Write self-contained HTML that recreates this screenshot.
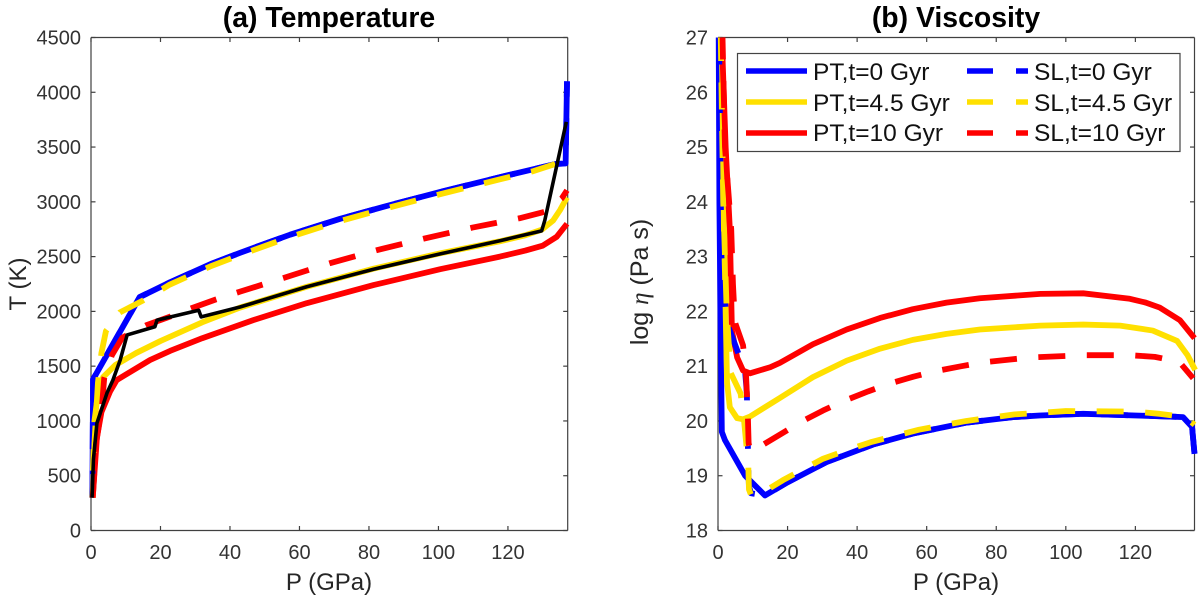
<!DOCTYPE html>
<html>
<head>
<meta charset="utf-8">
<title>Temperature and viscosity profiles</title>
<style>
html,body{margin:0;padding:0;background:#fff;}
svg{display:block;font-family:"Liberation Sans",Arial,sans-serif;}
</style>
</head>
<body>
<svg id="fig" width="1200" height="601" viewBox="0 0 1200 601" xmlns="http://www.w3.org/2000/svg">
  <g id="panelA">
    <text x="329" y="27" font-size="28.4" font-weight="bold" text-anchor="middle" fill="#000">(a) Temperature</text>
    <text x="329" y="590" font-size="24" text-anchor="middle" fill="#262626">P (GPa)</text>
    <text transform="translate(26,284) rotate(-90)" font-size="24" text-anchor="middle" fill="#262626">T (K)</text>
  </g>
  <g id="panelB">
    <text x="956" y="27" font-size="28.4" font-weight="bold" text-anchor="middle" fill="#000">(b) Viscosity</text>
    <text x="956" y="590" font-size="24" text-anchor="middle" fill="#262626">P (GPa)</text>
    <text transform="translate(648,282) rotate(-90)" font-size="25" text-anchor="middle" fill="#262626">log <tspan font-family="'Liberation Serif',serif" font-style="italic">η</tspan> (Pa s)</text>
  </g>
  <g id="legend">
    <rect x="737.5" y="53.5" width="442.5" height="98" fill="#fff" stroke="#444" stroke-width="1.2"/>
    <g>
      <line x1="746" y1="71" x2="807" y2="71" stroke="#0000ff" stroke-width="5.5"/>
      <text x="813" y="80" font-size="24.5" fill="#111">PT,t=0 Gyr</text>
    </g>
    <g>
      <line x1="746" y1="102" x2="807" y2="102" stroke="#ffe000" stroke-width="5.5"/>
      <text x="813" y="111" font-size="24.5" fill="#111">PT,t=4.5 Gyr</text>
    </g>
    <g>
      <line x1="746" y1="133" x2="807" y2="133" stroke="#ff0000" stroke-width="5.5"/>
      <text x="813" y="141" font-size="24.5" fill="#111">PT,t=10 Gyr</text>
    </g>
    <g>
      <line x1="967" y1="71" x2="1028" y2="71" stroke="#0000ff" stroke-width="5.5" stroke-dasharray="26 23"/>
      <text x="1034" y="80" font-size="24.5" fill="#111">SL,t=0 Gyr</text>
    </g>
    <g>
      <line x1="967" y1="102" x2="1028" y2="102" stroke="#ffe000" stroke-width="5.5" stroke-dasharray="26 23"/>
      <text x="1034" y="111" font-size="24.5" fill="#111">SL,t=4.5 Gyr</text>
    </g>
    <g>
      <line x1="967" y1="133" x2="1028" y2="133" stroke="#ff0000" stroke-width="5.5" stroke-dasharray="26 23"/>
      <text x="1034" y="141" font-size="24.5" fill="#111">SL,t=10 Gyr</text>
    </g>
  </g>
</svg>
<script>
// Tick labels
const xTicks = [0, 20, 40, 60, 80, 100, 120];
const tempTicks = [0, 500, 1000, 1500, 2000, 2500, 3000, 3500, 4000, 4500];
const viscTicks = [18, 19, 20, 21, 22, 23, 24, 25, 26, 27];

// Panel (a): temperature profiles
const tempPtBlueP = [0.4, 0.6, 14, 22.7, 34.3, 42.9, 57.3, 71.7, 86, 100.5, 117.7, 133.6, 136.6, 137];
const tempPtBlueT = [300, 1380, 2130, 2265, 2430, 2535, 2700, 2845, 2970, 3090, 3225, 3345, 3350, 4100];
const tempPtYellowP = [0.3, 1, 2, 3.5, 7, 13, 20, 32, 42.9, 62.1, 81.3, 100.5, 117.7, 125, 129.7, 133, 135, 137];
const tempPtYellowT = [300, 1000, 1250, 1400, 1510, 1620, 1730, 1900, 2035, 2225, 2390, 2530, 2640, 2695, 2745, 2830, 2925, 3040];
const tempPtRedP = [0.5, 1.7, 3, 5.5, 7.4, 17, 22.8, 32, 46.7, 62.1, 81.3, 100.5, 117.7, 125, 130, 134, 137];
const tempPtRedT = [300, 850, 1080, 1270, 1373, 1556, 1640, 1755, 1920, 2075, 2240, 2385, 2500, 2555, 2600, 2680, 2800];
const tempSlBlueP = [0.4, 0.6, 14, 22.7, 34.3, 42.9, 57.3, 71.7, 86, 100.5, 117.7, 133.6, 136.6, 137];
const tempSlBlueT = [300, 1380, 2130, 2265, 2430, 2535, 2700, 2845, 2970, 3090, 3225, 3345, 3350, 4100];
const tempSlYellowP = [0.5, 1, 2, 3, 4.3, 8.3, 15, 22.7, 34.3, 42.9, 57.3, 71.7, 86, 100.5, 117.7, 127.3, 133.6];
const tempSlYellowT = [300, 800, 1350, 1620, 1820, 1990, 2100, 2245, 2410, 2515, 2680, 2825, 2950, 3070, 3205, 3280, 3345];
const tempSlRedP = [0.5, 1.5, 3.2, 3.8, 6, 9, 16, 23, 29, 36, 42.9, 55.4, 68.8, 82.4, 95.9, 109.8, 123.3, 130.7, 135.5, 137];
const tempSlRedT = [300, 800, 1150, 1390, 1600, 1760, 1875, 1955, 2030, 2110, 2180, 2305, 2440, 2560, 2665, 2765, 2850, 2910, 3032, 3105];
const tempBlackP = [0.3, 0.7, 1.7, 4.6, 6.3, 8.4, 10.4, 18.4, 19, 31, 31.7, 42.9, 62.1, 81.3, 100.5, 117.7, 129.7, 130.6, 136.8];
const tempBlackT = [300, 650, 980, 1255, 1373, 1556, 1785, 1860, 1920, 2010, 1950, 2040, 2225, 2385, 2525, 2645, 2735, 2830, 3730];

// Panel (b): viscosity profiles
const viscPtBlueP = [0.2, 0.4, 0.7, 1.1, 2, 7.8, 13.5, 20, 31.2, 44.6, 56, 71.5, 84.8, 92.5, 105, 120, 130, 133.7, 136.3, 137];
const viscPtBlueE = [27, 24, 22, 19.8, 19.65, 19, 18.64, 18.88, 19.25, 19.57, 19.77, 19.97, 20.07, 20.1, 20.13, 20.1, 20.08, 20.07, 19.89, 19.4];
const viscPtYellowP = [1.1, 1.7, 2, 2.3, 2.6, 3.4, 5.5, 7.2, 9.2, 17.8, 27.3, 37, 46.6, 56, 65.7, 75.3, 92.7, 105, 115.6, 125, 132, 135, 137.2];
const viscPtYellowE = [27, 23.5, 22.7, 21.65, 20.7, 20.25, 20.05, 20.03, 20.08, 20.42, 20.8, 21.1, 21.32, 21.48, 21.59, 21.67, 21.74, 21.76, 21.74, 21.65, 21.46, 21.2, 20.93];
const viscPtRedP = [1.1, 2.2, 3.4, 4, 5.5, 7.2, 9.2, 15, 17.8, 27.3, 37, 46.6, 56, 65.7, 75.3, 92.7, 105, 118.4, 123, 127, 132.8, 137];
const viscPtRedE = [27, 25, 23.5, 21.65, 21.16, 20.92, 20.87, 20.98, 21.06, 21.4, 21.67, 21.88, 22.04, 22.16, 22.24, 22.32, 22.33, 22.23, 22.16, 22.07, 21.84, 21.51];
const viscSlBlueP = [0.3, 1, 2.5, 3.7, 7.8, 8.3, 8.7, 8.9, 9.5, 13.5, 20, 31.2, 44.6, 56, 71.5, 84.8, 92.5, 105, 120, 130, 133.7, 136.3, 137];
const viscSlBlueE = [27, 23, 21.8, 21.6, 20.9, 20.5, 19.2, 18.8, 18.68, 18.64, 18.88, 19.25, 19.57, 19.77, 19.97, 20.07, 20.1, 20.13, 20.1, 20.08, 20.07, 19.89, 19.4];
const viscSlYellowP = [0.8, 1.5, 2, 2.5, 3, 3.7, 6.5, 7.5, 8.7, 8.9, 9.5, 13, 18.7, 30.2, 37.2, 44.3, 57.8, 71.4, 85.3, 100, 120, 127, 134.3, 137];
const viscSlYellowE = [27, 24, 23, 22, 21.5, 20.87, 20.5, 20, 19.2, 18.75, 18.65, 18.7, 18.92, 19.31, 19.47, 19.62, 19.84, 20, 20.12, 20.18, 20.17, 20.13, 20.07, 19.93];
const viscSlRedP = [1.3, 2, 3.8, 4.3, 4.7, 5, 7.2, 8, 8.3, 8.6, 8.8, 9.2, 12, 17.8, 23.5, 30.2, 36, 43.2, 49.2, 56.3, 62.6, 70, 76.2, 83.7, 90, 105, 118.5, 125.6, 132.6, 136.6];
const viscSlRedE = [27, 25, 23.5, 22.5, 22, 21.78, 21.38, 20.92, 20.5, 20.06, 19.6, 19.45, 19.53, 19.75, 19.97, 20.19, 20.36, 20.54, 20.68, 20.81, 20.91, 21, 21.07, 21.12, 21.16, 21.2, 21.2, 21.17, 21.08, 20.78];

const svgNS = 'http://www.w3.org/2000/svg';
const fig = document.getElementById('fig');
const legend = document.getElementById('legend');

function makeAxes(left, right, top, bottom, xMax, yMin, yMax) {
  return {
    left, right, top, bottom,
    x: function (v) { return left + (v / xMax) * (right - left); },
    y: function (v) { return bottom - ((v - yMin) / (yMax - yMin)) * (bottom - top); }
  };
}
const axesA = makeAxes(91, 567.7, 37.5, 530.5, 137.2, 0, 4500);
const axesB = makeAxes(718, 1194.5, 37.5, 530.5, 137, 18, 27);

function line(parent, x1, y1, x2, y2) {
  const el = document.createElementNS(svgNS, 'line');
  el.setAttribute('x1', x1);
  el.setAttribute('y1', y1);
  el.setAttribute('x2', x2);
  el.setAttribute('y2', y2);
  el.setAttribute('stroke', '#404040');
  el.setAttribute('stroke-width', '1.2');
  
  
  parent.appendChild(el);
}

function label(parent, x, y, anchor, str) {
  const el = document.createElementNS(svgNS, 'text');
  el.setAttribute('x', x);
  el.setAttribute('y', y);
  el.setAttribute('text-anchor', anchor);
  el.setAttribute('font-size', '20');
  el.setAttribute('fill', '#333');
  
  
  el.textContent = str;
  parent.appendChild(el);
}

function drawAxes(ax, yTicks, panelId) {
  const g = document.createElementNS(svgNS, 'g');
  
  
  document.getElementById(panelId).appendChild(g);
  line(g, ax.left, ax.top, ax.right, ax.top);
  line(g, ax.left, ax.bottom, ax.right, ax.bottom);
  line(g, ax.left, ax.top, ax.left, ax.bottom);
  line(g, ax.right, ax.top, ax.right, ax.bottom);
  xTicks.forEach(function (t) {
    const px = ax.x(t);
    line(g, px, ax.bottom, px, ax.bottom - 4.5);
    line(g, px, ax.top, px, ax.top + 4.5);
    label(g, px, 559, 'middle', String(t));
  });
  yTicks.forEach(function (t) {
    const py = ax.y(t);
    line(g, ax.left, py, ax.left + 4.5, py);
    line(g, ax.right, py, ax.right - 4.5, py);
    label(g, ax.left - 10, py + 7, 'end', String(t));
  });
}

function drawSeries(ax, xs, ys, color, width, dashOffset, name, panelId) {
  const pts = xs.map(function (v, i) {
    return ax.x(v).toFixed(2) + ',' + ax.y(ys[i]).toFixed(2);
  }).join(' ');
  const el = document.createElementNS(svgNS, 'polyline');
  el.setAttribute('points', pts);
  el.setAttribute('fill', 'none');
  el.setAttribute('stroke', color);
  el.setAttribute('stroke-width', width);
  el.setAttribute('stroke-linejoin', 'round');
  if (dashOffset !== null) {
    el.setAttribute('stroke-dasharray', '27 21.5');
    el.setAttribute('stroke-dashoffset', dashOffset);
  }
  
  
  document.getElementById(panelId).appendChild(el);
}

const BLUE = '#0000ff', YELLOW = '#ffe000', RED = '#ff0000';

drawAxes(axesA, tempTicks, 'panelA');
drawSeries(axesA, tempPtBlueP, tempPtBlueT, BLUE, 5.8, null, 'temperature-pt-0-gyr', 'panelA');
drawSeries(axesA, tempPtYellowP, tempPtYellowT, YELLOW, 5.8, null, 'temperature-pt-4-5-gyr', 'panelA');
drawSeries(axesA, tempPtRedP, tempPtRedT, RED, 5.8, null, 'temperature-pt-10-gyr', 'panelA');
drawSeries(axesA, tempSlBlueP, tempSlBlueT, BLUE, 5.8, 0, 'temperature-sl-0-gyr', 'panelA');
drawSeries(axesA, tempSlYellowP, tempSlYellowT, YELLOW, 5.8, 3.5, 'temperature-sl-4-5-gyr', 'panelA');
drawSeries(axesA, tempSlRedP, tempSlRedT, RED, 5.8, 3, 'temperature-sl-10-gyr', 'panelA');
drawSeries(axesA, tempBlackP, tempBlackT, '#000', 3.6, null, 'temperature-reference-geotherm', 'panelA');

drawAxes(axesB, viscTicks, 'panelB');
drawSeries(axesB, viscPtBlueP, viscPtBlueE, BLUE, 5.8, null, 'viscosity-pt-0-gyr', 'panelB');
drawSeries(axesB, viscPtYellowP, viscPtYellowE, YELLOW, 5.8, null, 'viscosity-pt-4-5-gyr', 'panelB');
drawSeries(axesB, viscPtRedP, viscPtRedE, RED, 5.8, null, 'viscosity-pt-10-gyr', 'panelB');
drawSeries(axesB, viscSlBlueP, viscSlBlueE, BLUE, 5.8, 0, 'viscosity-sl-0-gyr', 'panelB');
drawSeries(axesB, viscSlYellowP, viscSlYellowE, YELLOW, 5.8, 3.5, 'viscosity-sl-4-5-gyr', 'panelB');
drawSeries(axesB, viscSlRedP, viscSlRedE, RED, 5.8, 5, 'viscosity-sl-10-gyr', 'panelB');

fig.appendChild(legend);
</script>
</body>
</html>
